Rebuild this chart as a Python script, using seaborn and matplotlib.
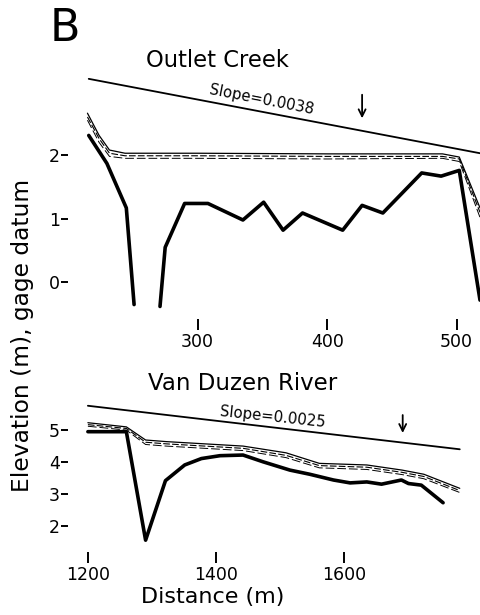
import numpy as np
import pandas as pd
import matplotlib
matplotlib.use("Agg")
import matplotlib.pyplot as plt
import seaborn as sns

# Outlet Creek profile (distance in m, elevation in m above gage datum)
oc_slope_x = [216, 518]
oc_slope_y = [3.20, 2.03]

oc_ws_x = [215, 224, 232, 244, 300, 400, 489, 502, 518]
oc_ws_top = [2.66, 2.31, 2.08, 2.03, 2.03, 2.02, 2.02, 1.97, 1.17]
oc_ws_mid = [2.60, 2.26, 2.03, 1.99, 1.99, 1.98, 1.98, 1.94, 1.10]
oc_ws_low = [2.55, 2.20, 1.98, 1.95, 1.95, 1.94, 1.95, 1.90, 1.02]

oc_bed_left_x = [216, 230, 245, 251]
oc_bed_left_y = [2.31, 1.87, 1.17, -0.35]
oc_bed_right_x = [271, 275, 290, 308, 335, 351, 366, 381, 412, 427, 443, 473, 488, 502, 518]
oc_bed_right_y = [-0.38, 0.55, 1.24, 1.24, 0.98, 1.26, 0.82, 1.09, 0.82, 1.21, 1.09, 1.72, 1.67, 1.76, -0.28]

# Van Duzen River profile
vd_slope_x = [1200, 1780]
vd_slope_y = [5.76, 4.40]

vd_ws_x = [1200, 1260, 1290, 1322, 1442, 1509, 1561, 1635, 1690, 1724, 1780]
vd_ws_top = [5.23, 5.10, 4.69, 4.64, 4.50, 4.29, 3.96, 3.91, 3.75, 3.62, 3.18]
vd_ws_mid = [5.17, 5.05, 4.62, 4.57, 4.43, 4.21, 3.89, 3.84, 3.68, 3.55, 3.11]
vd_ws_low = [5.12, 5.00, 4.55, 4.50, 4.36, 4.14, 3.82, 3.77, 3.61, 3.48, 3.05]

vd_bed_x = [1200, 1260, 1290, 1321, 1351, 1377, 1406, 1442, 1473, 1515, 1546, 1583, 1609, 1635, 1658, 1689, 1700, 1720, 1754]
vd_bed_y = [4.95, 4.95, 1.56, 3.42, 3.91, 4.11, 4.20, 4.22, 4.01, 3.75, 3.62, 3.44, 3.35, 3.38, 3.31, 3.44, 3.33, 3.28, 2.73]

sns.set_style("ticks")
plt.rcParams["font.family"] = ["DejaVu Sans"]
plt.rcParams["text.color"] = "black"

fig = plt.figure(figsize=(4.8, 6.15), dpi=100)
ax1 = fig.add_axes([0.1417, 0.481, 0.8583, 0.397])
ax2 = fig.add_axes([0.1417, 0.1024, 0.8375, 0.2472])


def draw_profile(ax, sx, sy, wx, w1, w2, w3, beds):
    sns.lineplot(x=sx, y=sy, ax=ax, color="black", lw=1.3, estimator=None)
    sns.lineplot(x=wx, y=w1, ax=ax, color="black", lw=0.9, estimator=None)
    sns.lineplot(x=wx, y=w2, ax=ax, color="black", lw=0.8, estimator=None, linestyle=(0, (6, 2)))
    sns.lineplot(x=wx, y=w3, ax=ax, color="black", lw=0.7, estimator=None, linestyle=(0, (9, 3)))
    for bx, by in beds:
        sns.lineplot(x=bx, y=by, ax=ax, color="black", lw=2.6, estimator=None)
    sns.despine(ax=ax, left=True, bottom=True)
    ax.tick_params(axis="both", direction="out", labelsize=12.5, width=1.4, colors="black")
    ax.tick_params(axis="y", length=5, pad=1)
    ax.tick_params(axis="x", length=8, pad=2)
    ax.set_xlabel("")
    ax.set_ylabel("")


arrow = dict(arrowstyle="->, head_length=0.5, head_width=0.25", lw=1.3, color="black",
             shrinkA=0, shrinkB=0)

draw_profile(ax1, oc_slope_x, oc_slope_y, oc_ws_x, oc_ws_top, oc_ws_mid, oc_ws_low,
             [(oc_bed_left_x, oc_bed_left_y), (oc_bed_right_x, oc_bed_right_y)])
ax1.set_xlim(200, 518)
ax1.set_ylim(-0.58, 3.26)
ax1.set_xticks([300, 400, 500])
ax1.set_yticks([0, 1, 2])
ax1.text(349, 2.87, "Slope=0.0038", rotation=-11, fontsize=10.7, ha="center", va="center")
ax1.annotate("", xy=(427, 2.58), xytext=(427, 2.95), arrowprops=arrow)

draw_profile(ax2, vd_slope_x, vd_slope_y, vd_ws_x, vd_ws_top, vd_ws_mid, vd_ws_low,
             [(vd_bed_x, vd_bed_y)])
ax2.set_xlim(1169, 1796)
ax2.set_ylim(1.19, 5.94)
ax2.set_xticks([1200, 1400, 1600])
ax2.set_yticks([2, 3, 4, 5])
ax2.text(1488, 5.40, "Slope=0.0025", rotation=-6, fontsize=10.7, ha="center", va="center")
ax2.annotate("", xy=(1691, 4.91), xytext=(1691, 5.47), arrowprops=arrow)

fig.text(0.104, 0.954, "B", fontsize=32, ha="left", va="center")
fig.text(0.452, 0.902, "Outlet Creek", fontsize=16.3, ha="center", va="center")
fig.text(0.506, 0.377, "Van Duzen River", fontsize=16.5, ha="center", va="center")
fig.text(0.046, 0.454, "Elevation (m), gage datum", fontsize=16.8, rotation=90, ha="center", va="center")
fig.text(0.444, 0.029, "Distance (m)", fontsize=16, ha="center", va="center")

fig.savefig("out.png", dpi=100)
